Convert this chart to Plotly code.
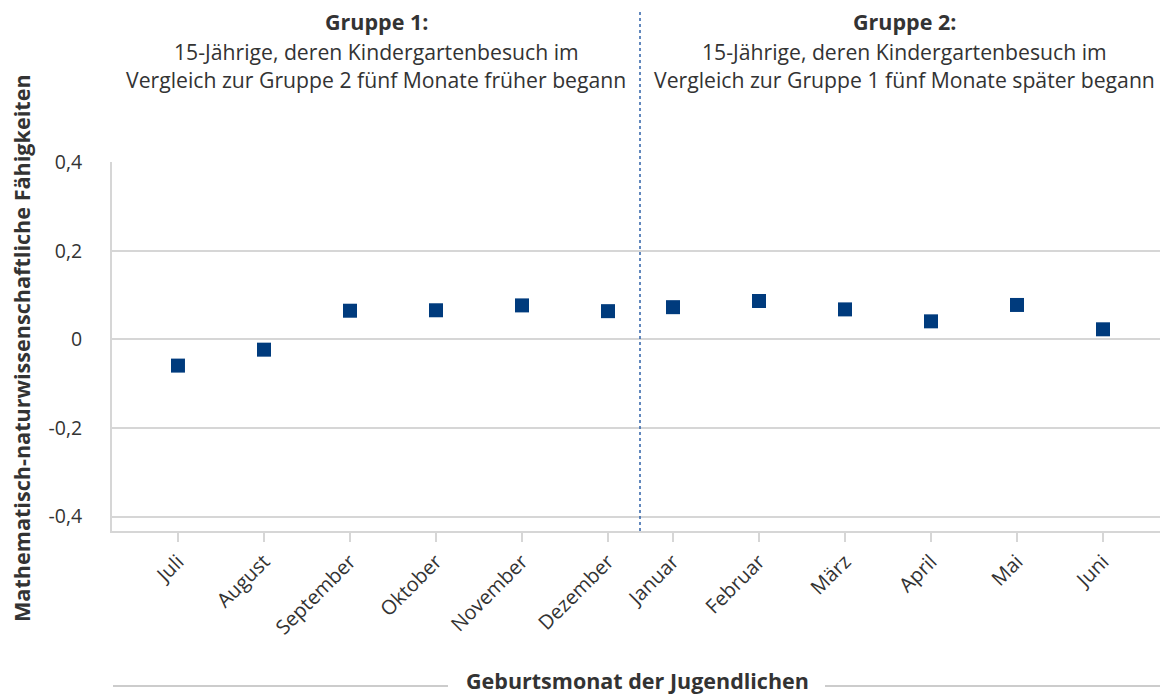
import plotly.graph_objects as go
from plotly.subplots import make_subplots

group1_months = ["Juli", "August", "September", "Oktober", "November", "Dezember"]
group1_values = [-0.059, -0.023, 0.065, 0.066, 0.077, 0.064]
group2_months = ["Januar", "Februar", "März", "April", "Mai", "Juni"]
group2_values = [0.073, 0.087, 0.068, 0.041, 0.078, 0.023]

y_tickvals = [0.4, 0.2, 0, -0.2, -0.4]
y_ticktext = ["0,4", "0,2", "0", "-0,2", "-0,4"]

FONT = "Open Sans"
MARK = "#003b7d"
GRID = "#d6d6d6"
TXT = "#333333"

fig = make_subplots(rows=1, cols=2, shared_yaxes=True, horizontal_spacing=0)

fig.add_trace(go.Scatter(x=group1_months, y=group1_values, mode="markers",
                         marker=dict(symbol="square", size=14, color=MARK),
                         showlegend=False, hoverinfo="x+y"), row=1, col=1)
fig.add_trace(go.Scatter(x=group2_months, y=group2_values, mode="markers",
                         marker=dict(symbol="square", size=14, color=MARK),
                         showlegend=False, hoverinfo="x+y"), row=1, col=2)

xcommon = dict(type="category", showgrid=False, showline=True, linecolor=GRID, linewidth=2,
               ticks="outside", ticklen=9, tickcolor=GRID, tickwidth=1.5,
               tickangle=-45, tickfont=dict(family=FONT, size=20, color=TXT))
fig.update_xaxes(**xcommon)
fig.update_xaxes(range=[-0.767, 5.372], row=1, col=1)
fig.update_xaxes(range=[-0.384, 5.756], row=1, col=2)

fig.update_yaxes(range=[-0.4327, 0.401], tickvals=y_tickvals, ticktext=y_ticktext,
                 showgrid=True, gridcolor=GRID, gridwidth=1.5,
                 zeroline=True, zerolinecolor=GRID, zerolinewidth=2,
                 tickfont=dict(family=FONT, size=19.5, color=TXT), ticks="",
                 ticklabelstandoff=24)
fig.update_yaxes(showline=True, linecolor=GRID, linewidth=2, row=1, col=1)
fig.update_yaxes(showline=False, showticklabels=False, row=1, col=2)

H = 369.0
def py(p):
    return (531 - p) / H

def px(p):
    return (p - 112) / 1056.0

ann = []
ann.append(dict(text="<b>Gruppe 1:</b>", x=0.25, y=py(22), size=21.5))
ann.append(dict(text="15-Jährige, deren Kindergartenbesuch im", x=0.25, y=py(51), size=21.2))
ann.append(dict(text="Vergleich zur Gruppe 2 fünf Monate früher begann", x=0.25, y=py(80), size=21.2))
ann.append(dict(text="<b>Gruppe 2:</b>", x=0.75, y=py(22), size=21.5))
ann.append(dict(text="15-Jährige, deren Kindergartenbesuch im", x=0.75, y=py(51), size=21.2))
ann.append(dict(text="Vergleich zur Gruppe 1 fünf Monate später begann", x=0.75, y=py(80), size=21.2))
for a in ann:
    s = a.pop("size")
    a.update(xref="paper", yref="paper", showarrow=False, xanchor="center", yanchor="middle",
             font=dict(family=FONT, size=s, color=TXT))

ann.append(dict(text="<b>Geburtsmonat der Jugendlichen</b>", x=px(637), y=py(680), xref="paper", yref="paper",
                showarrow=False, xanchor="center", yanchor="middle",
                font=dict(family=FONT, size=21.5, color=TXT)))
ann.append(dict(text="<b>Mathematisch-naturwissenschaftliche Fähigkeiten</b>", x=px(21),
                y=py(348), xref="paper", yref="paper", showarrow=False, textangle=-90,
                xanchor="center", yanchor="middle",
                font=dict(family=FONT, size=21.6, color=TXT)))

shapes = [
    dict(type="line", xref="paper", yref="paper", x0=0.5, x1=0.5, y0=0, y1=py(12),
         line=dict(color="#2f62a8", width=1.5, dash="dot")),
    dict(type="line", xref="paper", yref="paper", x0=px(113), x1=px(448),
         y0=py(686), y1=py(686), line=dict(color="#999999", width=1)),
    dict(type="line", xref="paper", yref="paper", x0=px(825), x1=1.0,
         y0=py(686), y1=py(686), line=dict(color="#999999", width=1)),
]

# page body has an 8px margin: size the figure so it fills the window exactly
fig.update_layout(width=1160, height=687, margin=dict(l=104, r=0, t=154, b=164),
                  plot_bgcolor="white", paper_bgcolor="white",
                  annotations=ann, shapes=shapes, showlegend=False)

fig.write_html("out.html")
